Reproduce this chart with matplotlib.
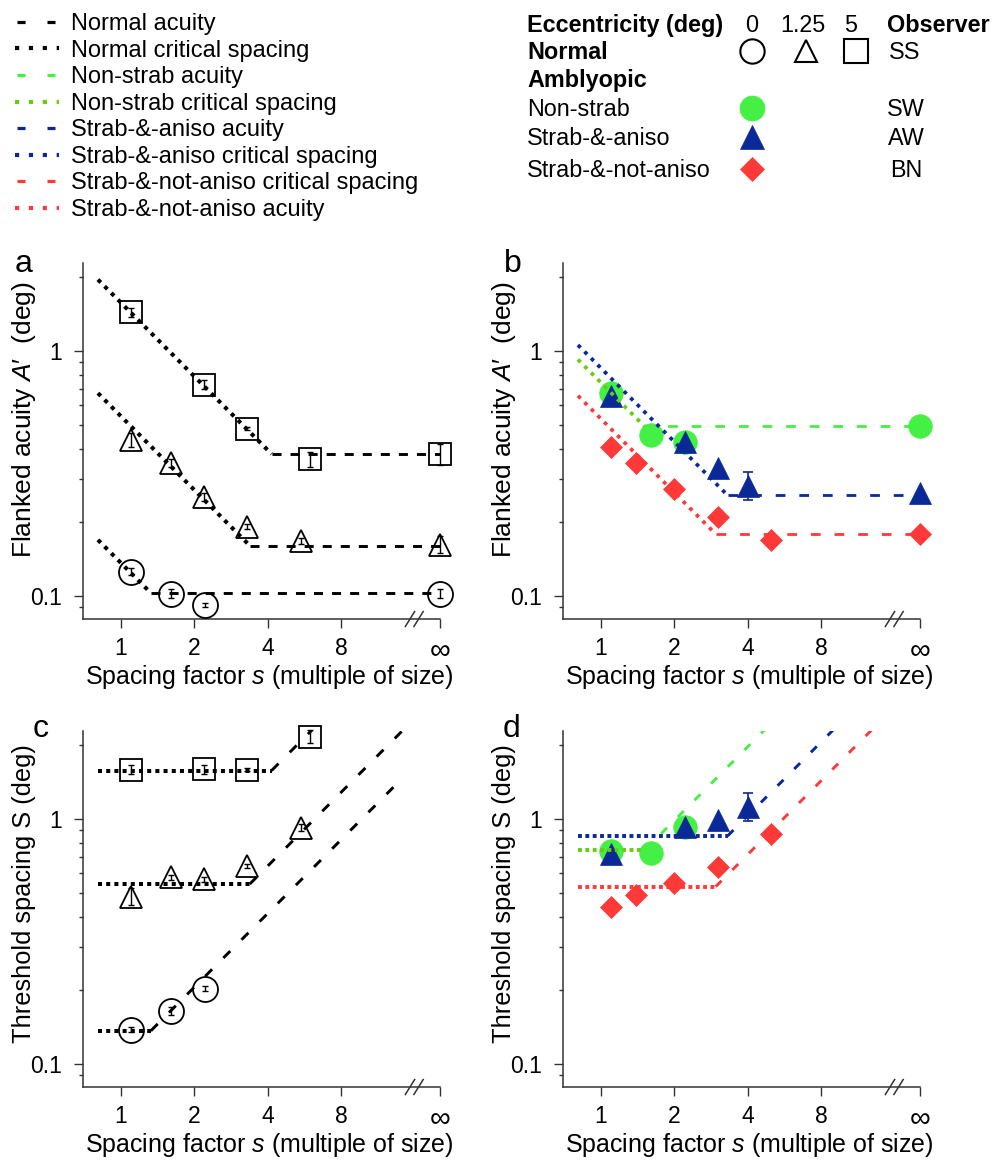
import numpy as np
import matplotlib
matplotlib.use('Agg')
import matplotlib.pyplot as plt
from matplotlib.ticker import FixedLocator, NullLocator, LogLocator, NullFormatter, FixedFormatter

plt.rcParams['font.family'] = ['Liberation Sans', 'DejaVu Sans']
plt.rcParams['mathtext.fontset'] = 'custom'
plt.rcParams['mathtext.rm'] = 'Liberation Sans'
plt.rcParams['mathtext.it'] = 'Liberation Sans:italic'
plt.rcParams['mathtext.bf'] = 'Liberation Sans:bold'
plt.rcParams['lines.scale_dashes'] = False

INF = np.inf

# ------------------------------------------------------------------ data
# Normal observer SS; eccentricities 0, 1.25, 5 deg
ecc_labels = ['0', '1.25', '5']

# panel a: flanked acuity A' (deg) vs spacing factor s; err = log10 half-width
a_s_0 = [1.106, 1.6, 2.22, INF]
a_A_0 = [0.1255, 0.102, 0.0916, 0.102]
a_err_0 = [0.014, 0.019, 0.008, 0.019]
a_s_125 = [1.106, 1.6, 2.19, 3.28, 5.5, INF]
a_A_125 = [0.434, 0.350, 0.254, 0.192, 0.167, 0.162]
a_err_125 = [0.029, 0.017, 0.015, 0.010, 0.012, 0.034]
a_s_5 = [1.106, 2.19, 3.28, 6.0, INF]
a_A_5 = [1.44, 0.73, 0.483, 0.362, 0.379]
a_err_5 = [0.017, 0.018, 0.006, 0.030, 0.044]

# panel c: threshold spacing S (deg) vs spacing factor s
c_s_0 = [1.106, 1.6, 2.22]
c_S_0 = [0.138, 0.165, 0.203]
c_err_0 = [0.010, 0.017, 0.009]
c_s_125 = [1.106, 1.6, 2.19, 3.28, 5.5]
c_S_125 = [0.483, 0.58, 0.568, 0.644, 0.921]
c_err_125 = [0.034, 0.010, 0.010, 0.009, 0.014]
c_s_5 = [1.106, 2.19, 3.28, 6.0]
c_S_5 = [1.59, 1.60, 1.59, 2.17]
c_err_5 = [0.018, 0.019, 0.006, 0.027]

# fitted model for normal: critical spacing and unflanked acuity (deg)
normal_crit = [0.1366, 0.543, 1.58]
normal_acuity = [0.1028, 0.1606, 0.38]

# Amblyopic observers
groups = ['Non-strab', 'Strab-&-aniso', 'Strab-&-not-aniso']
observers = ['SW', 'AW', 'BN']

b_s_ns = [1.106, 1.61, 2.21, INF]
b_A_ns = [0.674, 0.455, 0.424, 0.493]
b_s_sa = [1.106, 2.21, 3.02, 4.03, INF]
b_A_sa = [0.657, 0.427, 0.332, 0.281, 0.264]
b_err_sa = [0.0, 0.0, 0.0, 0.056, 0.0]
b_s_sn = [1.106, 1.40, 2.0, 3.02, 5.0, INF]
b_A_sn = [0.407, 0.348, 0.273, 0.21, 0.17, 0.179]

d_s_ns = [1.106, 1.61, 2.21]
d_S_ns = [0.742, 0.73, 0.933]
d_s_sa = [1.106, 2.21, 3.02, 4.03]
d_S_sa = [0.723, 0.93, 0.994, 1.12]
d_err_sa = [0.0, 0.0, 0.0, 0.058]
d_s_sn = [1.106, 1.40, 2.0, 3.02, 5.0]
d_S_sn = [0.437, 0.488, 0.547, 0.64, 0.868]

amb_crit = [0.745, 0.854, 0.530]
amb_acuity = [0.493, 0.2577, 0.179]

x_ticks = [1, 2, 4, 8]
x_ticklabels = ['1', '2', '4', '8']

legend_labels = ['Normal acuity', 'Normal critical spacing',
                 'Non-strab acuity', 'Non-strab critical spacing',
                 'Strab-&-aniso acuity', 'Strab-&-aniso critical spacing',
                 'Strab-&-not-aniso critical spacing', 'Strab-&-not-aniso acuity']

# ------------------------------------------------------------------ style
GREEN = '#44F044'
LIME = '#66CC11'
BLUE = '#0A2896'
RED = '#FF3838'
BLACK = '#000000'
AXC = '#333333'

XMIN, INF_POS = 0.70, 20.4
YMIN, YMAX = 0.0805, 2.285
S_START, S_END = 0.806, 14.5
BREAK_S = 16.0

W, H = 994, 1161
fig = plt.figure(figsize=(W / 100, H / 100), dpi=100)


def px_axes(left, top, right, bottom):
    return fig.add_axes([left / W, 1 - bottom / H, (right - left) / W, (bottom - top) / H])


def xpos(s):
    s = np.asarray(s, dtype=float)
    return np.where(np.isinf(s), INF_POS, s)


def setup(ax, ylabel, ylab_size):
    ax.set_xscale('log', base=2)
    ax.set_yscale('log')
    ax.set_xlim(XMIN, INF_POS)
    ax.set_ylim(YMIN, YMAX)
    ax.xaxis.set_major_locator(FixedLocator(x_ticks + [INF_POS]))
    ax.xaxis.set_major_formatter(FixedFormatter(x_ticklabels + ['\u221e']))
    ax.xaxis.set_minor_locator(NullLocator())
    ax.yaxis.set_major_locator(FixedLocator([0.1, 1]))
    ax.yaxis.set_major_formatter(FixedFormatter(['0.1', '1']))
    ax.yaxis.set_minor_locator(LogLocator(base=10, subs=np.arange(2, 10)))
    ax.yaxis.set_minor_formatter(NullFormatter())
    for sp in ['top', 'right']:
        ax.spines[sp].set_visible(False)
    for sp in ['left', 'bottom']:
        ax.spines[sp].set_color(AXC)
        ax.spines[sp].set_linewidth(1.1)
    ax.tick_params(axis='both', which='major', length=6.2, width=1.0, color=AXC,
                   labelsize=16.5)
    ax.tick_params(axis='y', which='minor', length=3.1, width=1.0, color=AXC)
    ax.tick_params(axis='y', which='major', pad=9)
    ax.tick_params(axis='x', which='major', pad=7)
    fig.canvas.draw_idle()
    ax.set_xlabel('Spacing factor $s$ (multiple of size)', fontsize=18, va='center')
    ax.xaxis.set_label_coords(0.521, -0.163)
    ax.set_ylabel(ylabel, fontsize=ylab_size, va='center')
    # axis break marks
    xb = np.log2(BREAK_S / XMIN) / np.log2(INF_POS / XMIN)
    for dx in (-0.012, 0.012):
        ax.plot([xb + dx - 0.013, xb + dx + 0.013], [-0.021, 0.021], color=AXC, lw=1.1,
                transform=ax.transAxes, clip_on=False, zorder=6)
    ax.patch.set_alpha(0)


def big_infinity(ax):
    labs = ax.get_xticklabels()
    labs[-1].set_fontsize(21)


def open_points(ax, s, y, err, marker, ms):
    x = xpos(s)
    y = np.asarray(y)
    e = np.asarray(err)
    lo = y - y * 10 ** (-e)
    hi = y * 10 ** e - y
    ax.errorbar(x, y, yerr=[lo, hi], fmt='none', ecolor='k', elinewidth=1.0,
                capsize=2.3, capthick=1.0, zorder=4, clip_on=False)
    ax.plot(x, y, ls='none', marker=marker, ms=ms, mfc='none', mec='k', mew=1.3,
            zorder=4, clip_on=False)


def filled_points(ax, s, y, color, marker, ms, err=None):
    x = xpos(s)
    y = np.asarray(y)
    ax.plot(x, y, ls='none', marker=marker, ms=ms, mfc=color, mec=color, mew=0.5,
            zorder=3, clip_on=False)
    if err is not None:
        e = np.asarray(err)
        m = e > 0
        lo = y - y * 10 ** (-e)
        hi = y * 10 ** e - y
        ax.errorbar(x[m], y[m], yerr=[lo[m], hi[m]], fmt='none', ecolor=color,
                    elinewidth=1.2, capsize=3.5, capthick=1.2, zorder=3, clip_on=False)


def acuity_fit(ax, S, A, c_dot, c_dash, dot_style, dash_style):
    sb = S / A
    ax.plot([S_START, sb], [S / S_START, A], color=c_dot, dash_capstyle='butt',
            solid_capstyle='butt', zorder=5, **dot_style)
    ax.plot([sb, INF_POS], [A, A], color=c_dash, dash_capstyle='butt', zorder=5,
            **dash_style)


def spacing_fit(ax, S, A, c_dot, c_dash, dot_style, dash_style):
    sb = S / A
    ax.plot([S_START, sb], [S, S], color=c_dot, dash_capstyle='butt', zorder=5,
            **dot_style)
    ax.plot([sb, S_END], [S, A * S_END], color=c_dash, dash_capstyle='butt', zorder=5,
            **dash_style)


# line styles (points)
blk_dot_diag = dict(lw=2.9, dashes=(2.9, 3.9))
blk_dash_h = dict(lw=2.1, dashes=(6.5, 6.5))
col_dot_diag = dict(lw=2.7, dashes=(2.7, 4.0))
col_dash_h = dict(lw=2.0, dashes=(7.0, 10.0))
blk_dot_h = dict(lw=2.9, dashes=(2.9, 3.0))
blk_dash_diag = dict(lw=2.1, dashes=(7.0, 11.5))
col_dot_h = dict(lw=2.8, dashes=(2.8, 2.5))
col_dash_diag = dict(lw=2.1, dashes=(6.0, 11.0))

# ------------------------------------------------------------------ panels
ax_a = px_axes(83, 263.3, 440, 619)
ax_b = px_axes(563, 263.3, 920, 619)
ax_c = px_axes(83, 731.3, 440, 1087)
ax_d = px_axes(563, 731.3, 920, 1087)

yl_a = "Flanked acuity $A$\u2032  (deg)"
yl_c = 'Threshold spacing S (deg)'
setup(ax_a, yl_a, 19)
setup(ax_b, yl_a, 19)
setup(ax_c, yl_c, 18.3)
setup(ax_d, yl_c, 18.3)
ax_a.yaxis.set_label_coords(-0.165, 0.56)
ax_b.yaxis.set_label_coords(-0.165, 0.56)
ax_c.yaxis.set_label_coords(-0.165, 0.545)
ax_d.yaxis.set_label_coords(-0.165, 0.545)

# panel a
for S, A in zip(normal_crit, normal_acuity):
    acuity_fit(ax_a, S, A, BLACK, BLACK, blk_dot_diag, blk_dash_h)
open_points(ax_a, a_s_0, a_A_0, a_err_0, 'o', 18)
open_points(ax_a, a_s_125, a_A_125, a_err_125, '^', 16)
open_points(ax_a, a_s_5, a_A_5, a_err_5, 's', 15.8)

# panel c
for S, A in zip(normal_crit, normal_acuity):
    spacing_fit(ax_c, S, A, BLACK, BLACK, blk_dot_h, blk_dash_diag)
open_points(ax_c, c_s_0, c_S_0, c_err_0, 'o', 18)
open_points(ax_c, c_s_125, c_S_125, c_err_125, '^', 16)
open_points(ax_c, c_s_5, c_S_5, c_err_5, 's', 15.8)

# panel b
filled_points(ax_b, b_s_ns, b_A_ns, GREEN, 'o', 17)
filled_points(ax_b, b_s_sa, b_A_sa, BLUE, '^', 16, b_err_sa)
filled_points(ax_b, b_s_sn, b_A_sn, RED, 'D', 11.3)
dot_cols = [LIME, BLUE, RED]
dash_cols = [GREEN, BLUE, RED]
for S, A, cdot, cdash in zip(amb_crit, amb_acuity, dot_cols, dash_cols):
    acuity_fit(ax_b, S, A, cdot, cdash, col_dot_diag, col_dash_h)

# panel d
filled_points(ax_d, d_s_ns, d_S_ns, GREEN, 'o', 17)
filled_points(ax_d, d_s_sa, d_S_sa, BLUE, '^', 16, d_err_sa)
filled_points(ax_d, d_s_sn, d_S_sn, RED, 'D', 11.3)
for S, A, cdot, cdash in zip(amb_crit, amb_acuity, dot_cols, dash_cols):
    spacing_fit(ax_d, S, A, cdot, cdash, col_dot_h, col_dash_diag)

for ax in (ax_a, ax_b, ax_c, ax_d):
    big_infinity(ax)

# ------------------------------------------------------------------ overlay (legend, table, letters)
ov = fig.add_axes([0, 0, 1, 1], zorder=-1)
ov.set_xlim(0, W)
ov.set_ylim(H, 0)
ov.axis('off')

leg_colors = [BLACK, BLACK, GREEN, LIME, BLUE, BLUE, RED, RED]
leg_dotted = [False, True, False, True, False, True, False, True]
for i, (lab, col, dotted) in enumerate(zip(legend_labels, leg_colors, leg_dotted)):
    yc = 21.7 + 26.6 * i
    if dotted:
        ov.plot([15, 58.5], [yc, yc], color=col, lw=3.0, dashes=(3.0, 7.0),
                dash_capstyle='butt')
    else:
        ov.plot([17, 55], [yc, yc], color=col, lw=2.3, dashes=(5.8, 15.8),
                dash_capstyle='butt')
    ov.text(71, yc + 8.2, lab, fontsize=17, va='baseline', ha='left')

# eccentricity / observer table
TFS = 16.8
ov.text(527, 31.7, 'Eccentricity (deg)', fontsize=TFS, weight='bold', va='baseline')
for lab, xc in zip(ecc_labels, [752, 803, 851]):
    ov.text(xc, 31.7, lab, fontsize=TFS, ha='center', va='baseline')
ov.text(887, 31.7, 'Observer', fontsize=TFS, weight='bold', va='baseline')
ov.text(527, 59.0, 'Normal', fontsize=TFS, weight='bold', va='baseline')
for mk, xc, ms in zip(['o', '^', 's'], [752, 806, 856], [17.5, 16.5, 17.5]):
    ov.plot([xc], [51], ls='none', marker=mk, ms=ms, mfc='none', mec='k', mew=1.5)
ov.text(905, 59.0, 'SS', fontsize=TFS, ha='center', va='baseline')
ov.text(527, 87.5, 'Amblyopic', fontsize=TFS, weight='bold', va='baseline')
row_y = [108, 137, 169]
row_mk = [('o', 18, GREEN), ('^', 17, BLUE), ('D', 12.5, RED)]
for g, ob, yc, (mk, ms, col) in zip(groups, observers, row_y, row_mk):
    ov.text(527, yc + 8.3, g, fontsize=TFS, va='baseline')
    ov.plot([752], [yc], ls='none', marker=mk, ms=ms, mfc=col, mec=col, mew=0.5)
    ov.text(906, yc + 8.3, ob, fontsize=TFS, ha='center', va='baseline')

# panel letters
for lab, x, y in [('a', 15, 272), ('b', 504, 272), ('c', 33, 737), ('d', 503, 737)]:
    ov.text(x, y, lab, fontsize=23, va='baseline', ha='left')

fig.savefig('out.png', dpi=100)
